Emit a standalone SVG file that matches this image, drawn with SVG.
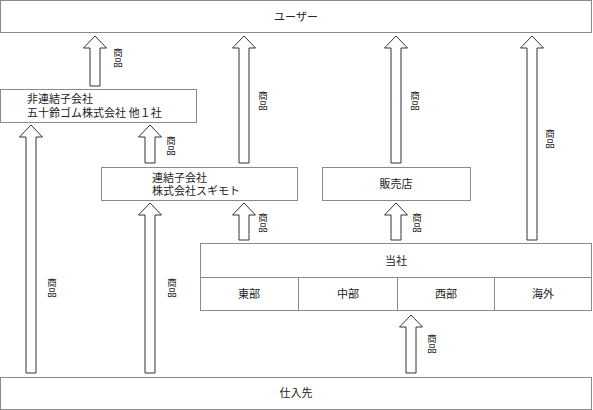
<svg xmlns="http://www.w3.org/2000/svg" width="593" height="410" viewBox="0 0 593 410">
<style>
.box{fill:#fff;stroke:#8a8a8a;stroke-width:1}
.t{font-family:"Liberation Serif","Noto Sans CJK JP",serif;font-size:11px;fill:#222}
.c{text-anchor:middle}
.arr{fill:#fff;stroke:#333;stroke-width:1}
.lb{font-family:"Liberation Serif","Noto Sans CJK JP",serif;font-size:9.5px;fill:#222;text-anchor:middle}
</style>
<rect width="593" height="410" fill="#fff"/>
<g id="user"><rect class="box" x="0.5" y="0.5" width="591" height="32"/><text class="t c" x="296" y="21">ユーザー</text></g>
<g id="hirenketsu"><rect class="box" x="0.5" y="89.5" width="196" height="33"/><text class="t" x="27" y="103">非連結子会社</text><text class="t" x="27" y="117">五十鈴ゴム株式会社 他１社</text></g>
<g id="renketsu"><rect class="box" x="101.5" y="167.5" width="196" height="33"/><text class="t" x="152" y="182">連結子会社</text><text class="t" x="152" y="195">株式会社スギモト</text></g>
<g id="hanbaiten"><rect class="box" x="322.5" y="167.5" width="148" height="33"/><text class="t c" x="396" y="188">販売店</text></g>
<g id="tousha"><rect class="box" x="200.5" y="243.5" width="391" height="67"/><line x1="200.5" y1="277.5" x2="591.5" y2="277.5" stroke="#8a8a8a"/><line x1="298.5" y1="277.5" x2="298.5" y2="310.5" stroke="#8a8a8a"/><line x1="397.5" y1="277.5" x2="397.5" y2="310.5" stroke="#8a8a8a"/><line x1="494.5" y1="277.5" x2="494.5" y2="310.5" stroke="#8a8a8a"/><text class="t c" x="396" y="265">当社</text><text class="t c" x="249" y="298">東部</text><text class="t c" x="348" y="298">中部</text><text class="t c" x="446" y="298">西部</text><text class="t c" x="543" y="298">海外</text></g>
<g id="shiiresaki"><rect class="box" x="0.5" y="377.5" width="591" height="32"/><text class="t c" x="296" y="397">仕入先</text></g>
<g id="connectors">
<path class="arr" d="M90,86 V48 H83.5 L95,36 L106.5,48 H100 V86 Z"/>
<path class="arr" d="M239,163 V48 H232.5 L244,36 L255.5,48 H249 V163 Z"/>
<path class="arr" d="M391,163 V48 H384.5 L396,36 L407.5,48 H401 V163 Z"/>
<path class="arr" d="M527,240 V48 H520.5 L532,36 L543.5,48 H537 V240 Z"/>
<path class="arr" d="M145,163 V137 H138.5 L150,125 L161.5,137 H155 V163 Z"/>
<path class="arr" d="M26,373 V137 H19.5 L31,125 L42.5,137 H36 V373 Z"/>
<path class="arr" d="M145,373 V215 H138.5 L150,203 L161.5,215 H155 V373 Z"/>
<path class="arr" d="M239,240 V215 H232.5 L244,203 L255.5,215 H249 V240 Z"/>
<path class="arr" d="M391,240 V215 H384.5 L396,203 L407.5,215 H401 V240 Z"/>
<path class="arr" d="M406,373 V327 H399.5 L411,315 L422.5,327 H416 V373 Z"/>
<text class="lb" x="118" y="56">商<tspan x="118" y="66">品</tspan></text>
<text class="lb" x="263" y="99">商<tspan x="263" y="109">品</tspan></text>
<text class="lb" x="415" y="99">商<tspan x="415" y="109">品</tspan></text>
<text class="lb" x="550" y="137">商<tspan x="550" y="147">品</tspan></text>
<text class="lb" x="171" y="144">商<tspan x="171" y="154">品</tspan></text>
<text class="lb" x="52" y="286">商<tspan x="52" y="296">品</tspan></text>
<text class="lb" x="172" y="286">商<tspan x="172" y="296">品</tspan></text>
<text class="lb" x="263" y="221">商<tspan x="263" y="231">品</tspan></text>
<text class="lb" x="417" y="221">商<tspan x="417" y="231">品</tspan></text>
<text class="lb" x="432" y="342">商<tspan x="432" y="352">品</tspan></text>
</g>
</svg>
